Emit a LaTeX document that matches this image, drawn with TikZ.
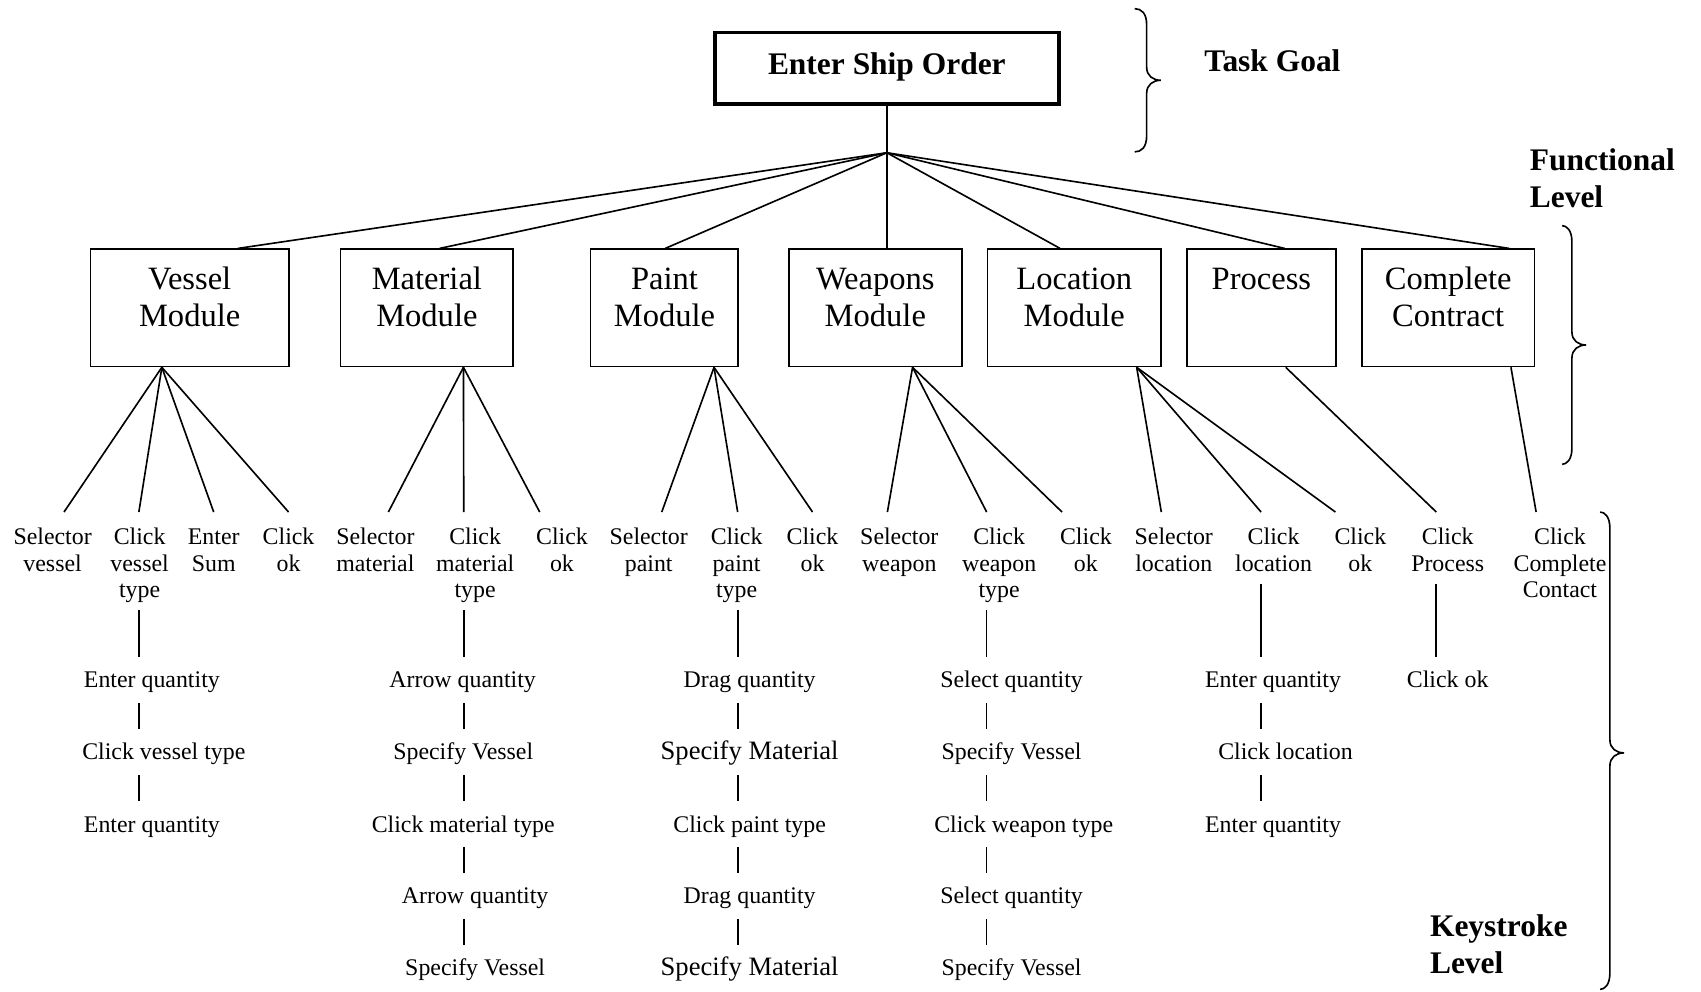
\documentclass[tikz,border=0pt]{standalone}
\usepackage{fontspec}
\setmainfont{Liberation Serif}
\newcommand\mybrace[6]{%
  \draw[brc] ({#1},{#4}) .. controls ({#2-5},{#4}) and ({#2},{#4+4}) .. ({#2},{#4+15})
    -- ({#2},{#5-12}) .. controls ({#2},{#5-4}) and ({#3-7},{#5}) .. ({#3},{#5})
    .. controls ({#3-7},{#5}) and ({#2},{#5+4}) .. ({#2},{#5+12})
    -- ({#2},{#6-15}) .. controls ({#2},{#6-4}) and ({#2-5},{#6}) .. ({#1},{#6});}
\newcommand\fl{\vphantom{lkdh}}
\begin{document}
\begin{tikzpicture}[x=1pt,y=-1pt,
  ln/.style={line width=1.5pt},
  topbox/.style={draw, line width=3.5pt, minimum width=317.5pt, minimum height=65.5pt, inner sep=0pt,
    font=\fontsize{29}{34}\selectfont\bfseries, text height=18pt, text depth=6pt},
  modbox/.style={draw, line width=1.6pt, minimum height=108pt, inner sep=0pt},
  modtext/.style={anchor=north, inner sep=0pt, align=center, font=\fontsize{30}{33.5}\selectfont},
  leaf/.style={anchor=north, inner xsep=0pt, inner ysep=6pt, align=center, font=\fontsize{22}{24.5}\selectfont},
  seq/.style={anchor=base, inner xsep=0pt, inner ysep=9pt, text height=19pt, text depth=5pt, font=\fontsize{22}{24.5}\selectfont},
  big/.style={font=\fontsize{24.5}{28}\selectfont},
  lvl/.style={anchor=north west, inner sep=0pt, align=left, font=\fontsize{29}{34}\selectfont\bfseries},
  brc/.style={line width=1.5pt}
]
\useasboundingbox (0,0) rectangle (1568,914);

% top goal
\node[topbox] (goal) at (817.5,62.75) {Enter Ship Order};
\coordinate (hub) at (817.5,140.8);
\draw[ln] (goal.south) -- (hub);

% level labels
\node[anchor=base west, inner sep=0pt, font=\fontsize{29}{34}\selectfont\bfseries] (taskgoal) at (1110,66) {Task Goal};
\node[lvl] (functional) at (1410,137) {Functional\\Level};
\node[lvl] (keystroke) at (1318,843) {Keystroke\\Level};

% braces
\mybrace{1046}{1057}{1070}{8}{74}{140}
\mybrace{1440}{1449}{1462}{208}{318}{428}
\mybrace{1475}{1484}{1497}{472}{694}{912}

% modules
\node[modbox, minimum width=182.7pt] (vessel) at (174.85,283.8) {};
\node[modbox, minimum width=159.4pt] (material) at (393.5,283.8) {};
\node[modbox, minimum width=136.2pt] (paint) at (612.5,283.8) {};
\node[modbox, minimum width=159.2pt] (weapons) at (806.9,283.8) {};
\node[modbox, minimum width=159.9pt] (location) at (990.25,283.8) {};
\node[modbox, minimum width=136.8pt] (process) at (1162.8,283.8) {};
\node[modbox, minimum width=159.3pt] (complete) at (1334.95,283.8) {};

\node[modtext] (vesselT) at (174.85,246) {\fl Vessel\\Module};
\node[modtext] (materialT) at (393.5,246) {\fl Material\\Module};
\node[modtext] (paintT) at (612.5,246) {\fl Paint\\Module};
\node[modtext] (weaponsT) at (806.9,246) {\fl Weapons\\Module};
\node[modtext] (locationT) at (990.25,246) {\fl Location\\Module};
\node[modtext] (processT) at (1162.8,246) {\fl Process};
\node[modtext] (completeT) at (1334.95,246) {\fl Complete\\Contract};

% hub to modules
\draw[ln] (hub) -- ([xshift=136.5pt]vessel.north west);
\draw[ln] (hub) -- ([xshift=92.2pt]material.north west);
\draw[ln] (hub) -- ([xshift=69.6pt]paint.north west);
\draw[ln] (hub) -- (hub |- weapons.north);
\draw[ln] (hub) -- ([xshift=67.7pt]location.north west);
\draw[ln] (hub) -- ([xshift=90.6pt]process.north west);
\draw[ln] (hub) -- ([xshift=136.7pt]complete.north west);

% leaves
\node[leaf] (vs1) at (48.5,480.5) {\fl Selector\\vessel};
\node[leaf] (vs2) at (128.7,480.5) {\fl Click\\vessel\\type};
\node[leaf] (vs3) at (197,480.5) {\fl Enter\\Sum};
\node[leaf] (vs4) at (266,480.5) {\fl Click\\ok};
\node[leaf] (ms1) at (346,480.5) {\fl Selector\\material};
\node[leaf] (ms2) at (438,480.5) {\fl Click\\material\\type};
\node[leaf] (ms3) at (518,480.5) {\fl Click\\ok};
\node[leaf] (ps1) at (598,480.5) {\fl Selector\\paint};
\node[leaf] (ps2) at (679,480.5) {\fl Click\\paint\\type};
\node[leaf] (ps3) at (749,480.5) {\fl Click\\ok};
\node[leaf] (ws1) at (829,480.5) {\fl Selector\\weapon};
\node[leaf] (ws2) at (921,480.5) {\fl Click\\weapon\\type};
\node[leaf] (ws3) at (1001,480.5) {\fl Click\\ok};
\node[leaf] (ls1) at (1082,480.5) {\fl Selector\\location};
\node[leaf] (ls2) at (1174,480.5) {\fl Click\\location};
\node[leaf] (ls3) at (1254,480.5) {\fl Click\\ok};
\node[leaf] (pr1) at (1334.5,480.5) {\fl Click\\Process};
\node[leaf] (cc1) at (1438,480.5) {\fl Click\\Complete\\Contact};

% module to leaves
\draw[ln] ([xshift=66.5pt]vessel.south west) -- ([xshift=10.5pt,yshift=8.5pt]vs1.north);
\draw[ln] ([xshift=66.5pt]vessel.south west) -- ([xshift=-0.7pt,yshift=8.5pt]vs2.north);
\draw[ln] ([xshift=66.5pt]vessel.south west) -- ([yshift=8.5pt]vs3.north);
\draw[ln] ([xshift=66.5pt]vessel.south west) -- ([yshift=8.5pt]vs4.north);
\draw[ln] ([xshift=114.2pt]material.south west) -- ([xshift=12pt,yshift=8.5pt]ms1.north);
\draw[ln] ([xshift=114.2pt]material.south west) -- ([xshift=-10.5pt,yshift=8.5pt]ms2.north);
\draw[ln] ([xshift=114.2pt]material.south west) -- ([xshift=-20.5pt,yshift=8.5pt]ms3.north);
\draw[ln] ([xshift=114.6pt]paint.south west) -- ([xshift=12pt,yshift=8.5pt]ps1.north);
\draw[ln] ([xshift=114.6pt]paint.south west) -- ([xshift=1pt,yshift=8.5pt]ps2.north);
\draw[ln] ([xshift=114.6pt]paint.south west) -- ([yshift=8.5pt]ps3.north);
\draw[ln] ([xshift=114.7pt]weapons.south west) -- ([xshift=-11pt,yshift=8.5pt]ws1.north);
\draw[ln] ([xshift=114.7pt]weapons.south west) -- ([xshift=-11.5pt,yshift=8.5pt]ws2.north);
\draw[ln] ([xshift=114.7pt]weapons.south west) -- ([xshift=-22pt,yshift=8.5pt]ws3.north);
\draw[ln] ([xshift=138.3pt]location.south west) -- ([xshift=-11.5pt,yshift=8.5pt]ls1.north);
\draw[ln] ([xshift=138.3pt]location.south west) -- ([xshift=-11.5pt,yshift=8.5pt]ls2.north);
\draw[ln] ([xshift=138.3pt]location.south west) -- ([xshift=-23pt,yshift=8.5pt]ls3.north);
\draw[ln] ([xshift=91.6pt]process.south west) -- ([xshift=-10.5pt,yshift=8.5pt]pr1.north);
\draw[ln] ([xshift=138.3pt]complete.south west) -- ([xshift=-22pt,yshift=8.5pt]cc1.north);

% columns
\coordinate (colV) at (128,0);
\coordinate (colM) at (427.5,0);
\coordinate (colP) at (680,0);
\coordinate (colW) at (909.5,0);
\coordinate (colL) at (1162.5,0);
\coordinate (colR) at (1323.5,0);

% sequences
\node[seq] (v1) at (140,634) {Enter quantity};
\node[seq] (v2) at (151,700.5) {Click vessel type};
\node[seq] (v3) at (140,767) {Enter quantity};

\node[seq] (m1) at (426.5,634) {Arrow quantity};
\node[seq] (m2) at (427,700.5) {Specify Vessel};
\node[seq] (m3) at (427,767) {Click material type};
\node[seq] (m4) at (438,833) {Arrow quantity};
\node[seq] (m5) at (438,899) {Specify Vessel};

\node[seq] (p1) at (691,634) {Drag quantity};
\node[seq,big] (p2) at (691,700.5) {Specify Material};
\node[seq] (p3) at (691,767) {Click paint type};
\node[seq] (p4) at (691,833) {Drag quantity};
\node[seq,big] (p5) at (691,899) {Specify Material};

\node[seq] (w1) at (932.5,634) {Select quantity};
\node[seq] (w2) at (932.5,700.5) {Specify Vessel};
\node[seq] (w3) at (943.7,767) {Click weapon type};
\node[seq] (w4) at (932.5,833) {Select quantity};
\node[seq] (w5) at (932.5,899) {Specify Vessel};

\node[seq] (l1) at (1173.5,634) {Enter quantity};
\node[seq] (l2) at (1185,700.5) {Click location};
\node[seq] (l3) at (1173.5,767) {Enter quantity};

\node[seq] (q1) at (1334.5,634) {Click ok};

% sequence connectors
\draw[ln] (vs2.south -| colV) -- (v1.north -| colV);
\draw[ln] (v1.south -| colV) -- (v2.north -| colV);
\draw[ln] (v2.south -| colV) -- (v3.north -| colV);

\draw[ln] (ms2.south -| colM) -- (m1.north -| colM);
\draw[ln] (m1.south -| colM) -- (m2.north -| colM);
\draw[ln] (m2.south -| colM) -- (m3.north -| colM);
\draw[ln] (m3.south -| colM) -- (m4.north -| colM);
\draw[ln] (m4.south -| colM) -- (m5.north -| colM);

\draw[ln] (ps2.south -| colP) -- (p1.north -| colP);
\draw[ln] (p1.south -| colP) -- (p2.north -| colP);
\draw[ln] (p2.south -| colP) -- (p3.north -| colP);
\draw[ln] (p3.south -| colP) -- (p4.north -| colP);
\draw[ln] (p4.south -| colP) -- (p5.north -| colP);

\draw[ln] (ws2.south -| colW) -- (w1.north -| colW);
\draw[ln] (w1.south -| colW) -- (w2.north -| colW);
\draw[ln] (w2.south -| colW) -- (w3.north -| colW);
\draw[ln] (w3.south -| colW) -- (w4.north -| colW);
\draw[ln] (w4.south -| colW) -- (w5.north -| colW);

\draw[ln, shorten <=5pt] (ls2.south -| colL) -- (l1.north -| colL);
\draw[ln] (l1.south -| colL) -- (l2.north -| colL);
\draw[ln] (l2.south -| colL) -- (l3.north -| colL);

\draw[ln, shorten <=5pt] (pr1.south -| colR) -- (q1.north -| colR);
\end{tikzpicture}
\end{document}
